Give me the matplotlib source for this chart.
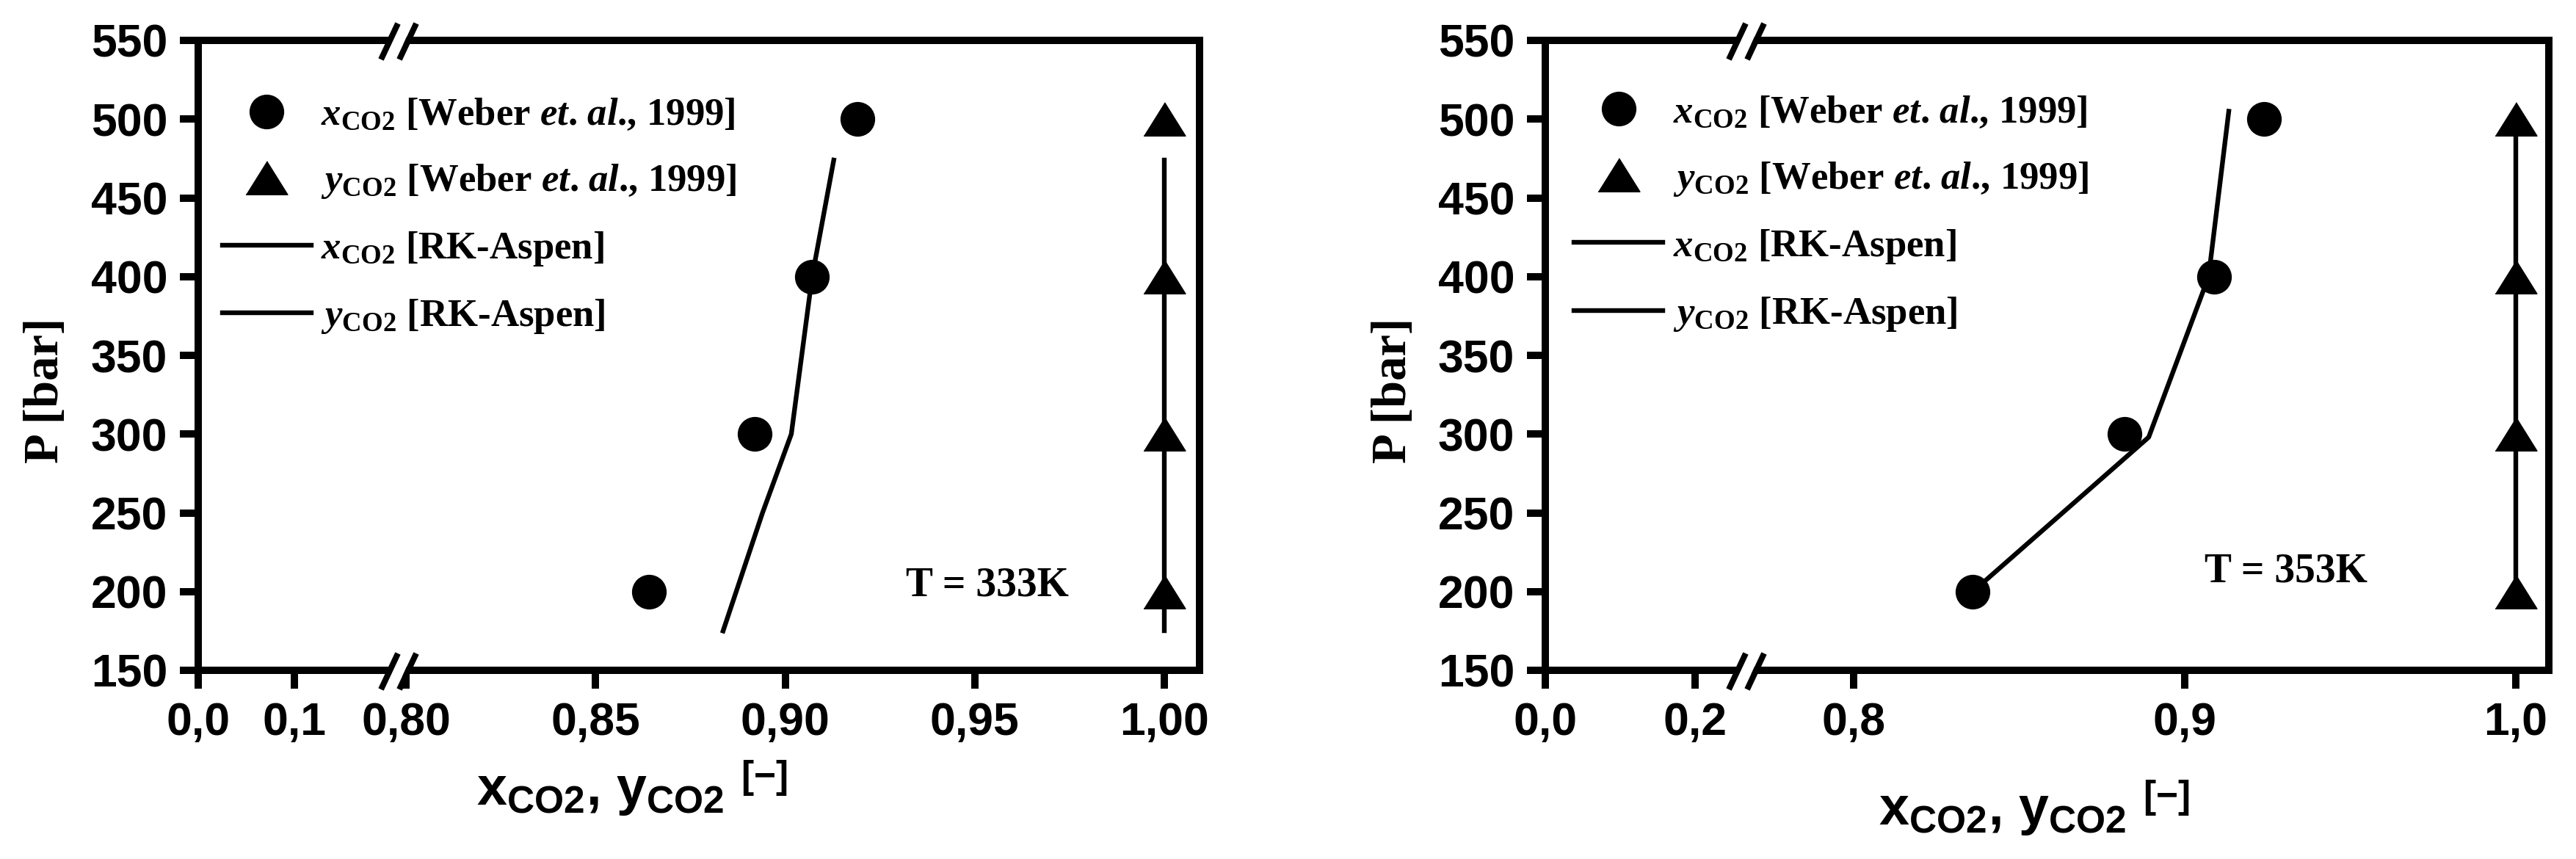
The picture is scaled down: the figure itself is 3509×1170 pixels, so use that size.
import numpy as np
import matplotlib
matplotlib.use('Agg')
import matplotlib.pyplot as plt

plt.rcParams['font.family'] = 'Liberation Sans'
plt.rcParams['font.weight'] = 'bold'
plt.rcParams['axes.labelweight'] = 'bold'
plt.rcParams['mathtext.fontset'] = 'custom'
plt.rcParams['mathtext.rm'] = 'Liberation Serif'
plt.rcParams['mathtext.it'] = 'Liberation Serif:italic'
plt.rcParams['mathtext.bf'] = 'Liberation Serif:bold'
plt.rcParams['mathtext.bfit'] = 'Liberation Serif:italic:bold'

# experimental data (Weber et al., 1999)
p_exp = [200, 300, 400, 500]
x_exp_333 = [0.8641, 0.8920, 0.9071, 0.9191]
y_exp_333 = [1.0, 1.0, 1.0, 1.0]
x_exp_353 = [0.8359, 0.8818, 0.9089, 0.9240]
y_exp_353 = [1.0, 1.0, 1.0, 1.0]

# RK-Aspen
p_rk_333 = [175, 250, 300, 400, 474]
x_rk_333 = [0.8836, 0.8940, 0.9016, 0.9071, 0.9128]
y_rk_333 = [1.0, 1.0, 1.0, 1.0, 1.0]
p_rk_353 = [200, 298, 400, 505]
x_rk_353 = [0.8360, 0.8891, 0.9072, 0.9133]
y_rk_353 = [1.0, 1.0, 1.0, 1.0]

xticks_333 = [0.0, 0.1, 0.80, 0.85, 0.90, 0.95, 1.00]
xlabels_333 = ['0,0', '0,1', '0,80', '0,85', '0,90', '0,95', '1,00']
xticks_353 = [0.0, 0.2, 0.8, 0.9, 1.0]
xlabels_353 = ['0,0', '0,2', '0,8', '0,9', '1,0']
yticks = [150, 200, 250, 300, 350, 400, 450, 500, 550]

W, H = 3509, 1170
PT = 0.72  # points per pixel at dpi=100

fig = plt.figure(figsize=(W / 100, H / 100), dpi=100)

leg_labels = [r'$x_{\mathrm{CO2}}$ [Weber $\mathbfit{et}$. $\mathbfit{al}$., 1999]',
              r'$y_{\mathrm{CO2}}$ [Weber $\mathbfit{et}$. $\mathbfit{al}$., 1999]',
              r'$x_{\mathrm{CO2}}$ [RK-Aspen]',
              r'$y_{\mathrm{CO2}}$ [RK-Aspen]']
tri = [(-1, -0.8), (1, -0.8), (0, 0.8)]


def add_break(ax, frac, wpx, hpx):
    # "//" marks on top and bottom spine
    for yb in (0, 1):
        ax.plot([frac - 4 / wpx, frac + 4 / wpx], [yb - 9 / hpx, yb + 9 / hpx],
                color='white', lw=16 * PT, transform=ax.transAxes,
                clip_on=False, zorder=10, solid_capstyle='butt')
        for off in (-12.5, 12.5):
            ax.plot([frac + (off - 11.5) / wpx, frac + (off + 11.5) / wpx],
                    [yb - 26 / hpx, yb + 23 / hpx], color='black', lw=8 * PT,
                    transform=ax.transAxes, clip_on=False, zorder=11,
                    solid_capstyle='butt')


def panel(box, xs, us, x_exp, y_exp, p_rk, x_rk, y_rk, xticks, xlabels,
          ttext, tpos, leg_anchor, xlab_pos, ylab_pos):
    l, t, r, b = box
    ax = fig.add_axes([l / W, 1 - b / H, (r - l) / W, (b - t) / H])
    fwd = lambda x: np.interp(x, xs, us)
    inv = lambda u: np.interp(u, us, xs)
    ax.set_xscale('function', functions=(fwd, inv))

    h1, = ax.plot(x_exp, p_exp, 'o', color='black', ms=33, ls='none')
    h2, = ax.plot(y_exp, p_exp, marker=tri, color='black', ms=41, ls='none')
    h3, = ax.plot(x_rk, p_rk, color='black', lw=4.6)
    h4, = ax.plot(y_rk, p_rk, color='black', lw=4.6)

    ax.set_xlim(xs[0], xs[-1])
    ax.set_ylim(150, 550)
    ax.set_xticks(xticks)
    ax.set_xticklabels(xlabels)
    ax.set_yticks(yticks)
    ax.minorticks_off()
    for s in ax.spines.values():
        s.set_linewidth(10 * PT)
    ax.tick_params(direction='out', length=25 * PT, width=10 * PT, pad=12,
                   labelsize=45)

    ax.set_ylabel('P [bar]', fontfamily='Liberation Serif', fontsize=48,
                  fontweight='bold')
    ax.yaxis.set_label_coords(*ylab_pos)
    ax.set_xlabel(r'x$_{\mathregular{CO2}}$, y$_{\mathregular{CO2}}$ $^{\mathregular{[-]}}$',
                  fontsize=53, fontweight='bold')
    ax.xaxis.set_label_coords(*xlab_pos)

    ax.text(tpos[0], tpos[1], ttext, transform=ax.transAxes, ha='center',
            va='center', fontfamily='Liberation Serif', fontsize=40)

    ax.legend([h1, h2, h3, h4], leg_labels, loc='upper left',
              bbox_to_anchor=leg_anchor, frameon=False, borderpad=0,
              borderaxespad=0, handlelength=2.3, handletextpad=0.25,
              labelspacing=0.76, numpoints=1,
              prop={'family': 'Liberation Serif', 'weight': 'bold', 'size': 38})

    wpx, hpx = r - l, b - t
    add_break(ax, us[1] / us[-1], wpx, hpx)
    return ax


panel((270, 55, 1634, 913), [0, 0.2084, 0.798, 1.0093], [0, 273, 273.001, 1364],
      x_exp_333, y_exp_333, p_rk_333, x_rk_333, y_rk_333, xticks_333, xlabels_333,
      'T = 333K', (0.788, 0.135), (0.024, 0.909), (0.433, -0.14), (-0.130, 0.444))

panel((2105, 55, 3472, 913), [0, 0.2686, 0.7676, 1.00998], [0, 274, 274.001, 1367],
      x_exp_353, y_exp_353, p_rk_353, x_rk_353, y_rk_353, xticks_353, xlabels_353,
      'T = 353K', (0.738, 0.157), (0.0285, 0.913), (0.487, -0.171), (-0.129, 0.444))

fig.savefig('out.png', dpi=100)
